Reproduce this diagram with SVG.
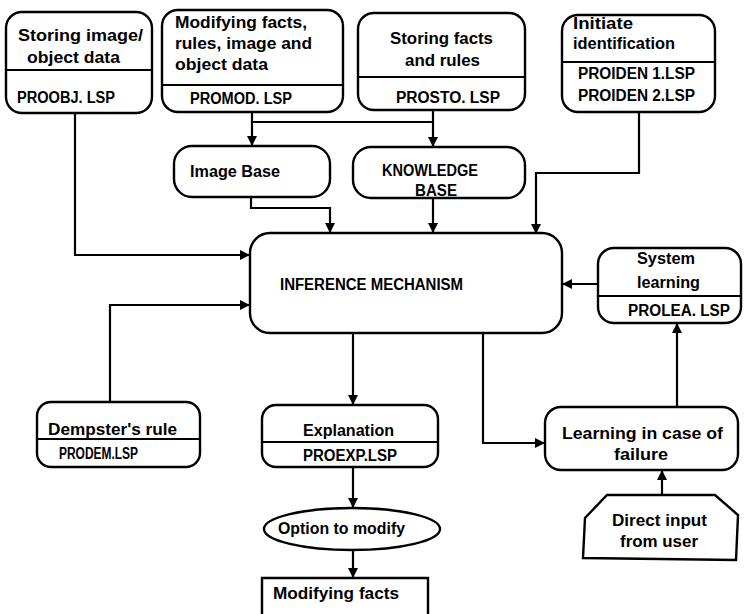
<svg xmlns="http://www.w3.org/2000/svg" width="746" height="614" viewBox="0 0 746 614">
  <style>
    .box { fill: #fff; stroke: #000; stroke-width: 2.4; }
    .div { stroke: #000; stroke-width: 2; }
    .t { font-family: "Liberation Sans", Arial, sans-serif; font-weight: bold; font-size: 16px; fill: #000; }
    .wire { fill: none; stroke: #000; stroke-width: 2.2; }
  </style>
  <defs>
    <marker id="arr" viewBox="0 0 10 10" refX="10" refY="5" markerWidth="10" markerHeight="10" markerUnits="userSpaceOnUse" orient="auto">
      <path d="M0,0 L10,5 L0,10 Z" fill="#000"/>
    </marker>
  </defs>

  <rect width="746" height="614" fill="#fff"/>

  <!-- connectors -->
  <g id="connectors">
    <!-- PROMOD feeds both bases -->
    <path class="wire" d="M252,112 V122 H433"/>
    <path class="wire" d="M252,122 V146" marker-end="url(#arr)"/>
    <path class="wire" d="M433,110 V147" marker-end="url(#arr)"/>
    <!-- bases into inference -->
    <path class="wire" d="M251,197 V208 H330 V233" marker-end="url(#arr)"/>
    <path class="wire" d="M433,198 V233" marker-end="url(#arr)"/>
    <!-- PROOBJ into inference -->
    <path class="wire" d="M75,113 V255 H250" marker-end="url(#arr)"/>
    <!-- Dempster into inference -->
    <path class="wire" d="M110,402 V305 H250" marker-end="url(#arr)"/>
    <!-- identification into inference -->
    <path class="wire" d="M639,112 V173 H536 V234" marker-end="url(#arr)"/>
    <!-- system learning into inference -->
    <path class="wire" d="M598,284 H562" marker-end="url(#arr)"/>
    <!-- inference to learning on failure -->
    <path class="wire" d="M483,333 V443 H545" marker-end="url(#arr)"/>
    <!-- learning on failure to system learning -->
    <path class="wire" d="M677,407 V323" marker-end="url(#arr)"/>
    <!-- user input to learning -->
    <path class="wire" d="M662,495 V470" marker-end="url(#arr)"/>
    <!-- inference to explanation chain -->
    <path class="wire" d="M353,333 V405" marker-end="url(#arr)"/>
    <path class="wire" d="M353,467 V508" marker-end="url(#arr)"/>
    <path class="wire" d="M353,550 V578" marker-end="url(#arr)"/>
  </g>

  <g id="proobj">
    <rect class="box" x="6" y="12" width="146" height="101" rx="16"/>
    <line class="div" x1="6" y1="70" x2="152" y2="70"/>
    <text class="t" x="18" y="41" textLength="125" lengthAdjust="spacingAndGlyphs">Storing image/</text>
    <text class="t" x="27" y="63" textLength="93" lengthAdjust="spacingAndGlyphs">object data</text>
    <text class="t" x="17" y="103" textLength="98" lengthAdjust="spacingAndGlyphs">PROOBJ. LSP</text>
  </g>

  <g id="promod">
    <rect class="box" x="162" y="10" width="181" height="102" rx="16"/>
    <line class="div" x1="162" y1="85" x2="343" y2="85"/>
    <text class="t" x="175" y="28" textLength="132" lengthAdjust="spacingAndGlyphs">Modifying facts,</text>
    <text class="t" x="175" y="49" textLength="137" lengthAdjust="spacingAndGlyphs">rules, image and</text>
    <text class="t" x="175" y="70" textLength="93" lengthAdjust="spacingAndGlyphs">object data</text>
    <text class="t" x="190" y="104" textLength="102" lengthAdjust="spacingAndGlyphs">PROMOD. LSP</text>
  </g>

  <g id="prosto">
    <rect class="box" x="358" y="13" width="167" height="97" rx="16"/>
    <line class="div" x1="358" y1="77" x2="525" y2="77"/>
    <text class="t" x="390" y="44" textLength="103" lengthAdjust="spacingAndGlyphs">Storing facts</text>
    <text class="t" x="405" y="66" textLength="75" lengthAdjust="spacingAndGlyphs">and rules</text>
    <text class="t" x="396" y="103" textLength="104" lengthAdjust="spacingAndGlyphs">PROSTO. LSP</text>
  </g>

  <g id="proiden">
    <rect class="box" x="562" y="15" width="153" height="97" rx="16"/>
    <line class="div" x1="562" y1="62" x2="715" y2="62"/>
    <text class="t" x="573" y="29" textLength="60" lengthAdjust="spacingAndGlyphs">Initiate</text>
    <text class="t" x="573" y="49" textLength="102" lengthAdjust="spacingAndGlyphs">identification</text>
    <text class="t" x="578" y="79" textLength="117" lengthAdjust="spacingAndGlyphs">PROIDEN 1.LSP</text>
    <text class="t" x="578" y="101" textLength="117" lengthAdjust="spacingAndGlyphs">PROIDEN 2.LSP</text>
  </g>

  <g id="image-base">
    <rect class="box" x="174" y="146" width="156" height="51" rx="18"/>
    <text class="t" x="190" y="177" textLength="90" lengthAdjust="spacingAndGlyphs">Image Base</text>
  </g>

  <g id="knowledge-base">
    <rect class="box" x="353" y="147" width="172" height="51" rx="18"/>
    <text class="t" x="382" y="176" textLength="96" lengthAdjust="spacingAndGlyphs">KNOWLEDGE</text>
    <text class="t" x="415" y="196" textLength="42" lengthAdjust="spacingAndGlyphs">BASE</text>
  </g>

  <g id="inference">
    <rect class="box" x="250" y="233" width="312" height="100" rx="20"/>
    <text class="t" x="280" y="290" textLength="183" lengthAdjust="spacingAndGlyphs">INFERENCE MECHANISM</text>
  </g>

  <g id="prolea">
    <rect class="box" x="598" y="248" width="143" height="75" rx="16"/>
    <line class="div" x1="598" y1="296" x2="741" y2="296"/>
    <text class="t" x="637" y="264" textLength="58" lengthAdjust="spacingAndGlyphs">System</text>
    <text class="t" x="637" y="288" textLength="63" lengthAdjust="spacingAndGlyphs">learning</text>
    <text class="t" x="628" y="316" textLength="102" lengthAdjust="spacingAndGlyphs">PROLEA. LSP</text>
  </g>

  <g id="prodem">
    <rect class="box" x="37" y="402" width="163" height="65" rx="14"/>
    <line class="div" x1="37" y1="439" x2="200" y2="439"/>
    <text class="t" x="48" y="435" textLength="129" lengthAdjust="spacingAndGlyphs">Dempster's rule</text>
    <text class="t" x="59" y="459" textLength="79" lengthAdjust="spacingAndGlyphs">PRODEM.LSP</text>
  </g>

  <g id="proexp">
    <rect class="box" x="262" y="405" width="176" height="62" rx="14"/>
    <line class="div" x1="262" y1="442" x2="438" y2="442"/>
    <text class="t" x="303" y="436" textLength="91" lengthAdjust="spacingAndGlyphs">Explanation</text>
    <text class="t" x="303" y="461" textLength="94" lengthAdjust="spacingAndGlyphs">PROEXP.LSP</text>
  </g>

  <g id="failure-learning">
    <rect class="box" x="545" y="407" width="193" height="63" rx="16"/>
    <text class="t" x="562" y="439" textLength="161" lengthAdjust="spacingAndGlyphs">Learning in case of</text>
    <text class="t" x="614" y="460" textLength="54" lengthAdjust="spacingAndGlyphs">failure</text>
  </g>

  <g id="user-input">
    <polygon class="box" points="607,495 715,495 738,515 736,560 583,558 585,518"/>
    <text class="t" x="612" y="526" textLength="95" lengthAdjust="spacingAndGlyphs">Direct input</text>
    <text class="t" x="620" y="547" textLength="78" lengthAdjust="spacingAndGlyphs">from user</text>
  </g>

  <g id="option">
    <ellipse class="box" cx="352" cy="529" rx="88" ry="21"/>
    <text class="t" x="278" y="534" font-size="15" textLength="127" lengthAdjust="spacingAndGlyphs">Option to modify</text>
  </g>

  <g id="modify-facts">
    <path class="box" d="M262,616 V578 H428 V616"/>
    <text class="t" x="273" y="599" textLength="126" lengthAdjust="spacingAndGlyphs">Modifying facts</text>
  </g>
</svg>
